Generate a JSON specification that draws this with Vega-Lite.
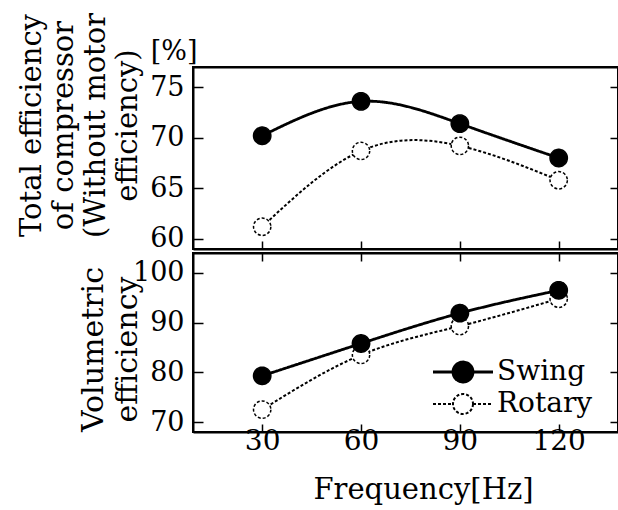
{
  "$schema": "https://vega.github.io/schema/vega-lite/v6.json",
  "background": "white",
  "padding": {"left": 15, "top": 11, "right": 0, "bottom": 0},
  "spacing": -9,
  "config": {
    "font": "DejaVu Serif",
    "view": {"stroke": "black", "strokeWidth": 2},
    "axis": {
      "domainColor": "black", "domainWidth": 2, "tickColor": "black", "tickWidth": 1.5, "minExtent": 0,
      "labelColor": "black", "titleColor": "black", "labelFont": "DejaVu Serif", "titleFont": "DejaVu Serif",
      "labelFontSize": 27, "titleFontSize": 27, "titleFontWeight": "normal", "grid": false
    }
  },
  "data": {"values": [
    {"panel": "total", "series": "Rotary", "freq": 30, "value": 61.2},
    {"panel": "total", "series": "Rotary", "freq": 60, "value": 68.7},
    {"panel": "total", "series": "Rotary", "freq": 90, "value": 69.2},
    {"panel": "total", "series": "Rotary", "freq": 120, "value": 65.8},
    {"panel": "total", "series": "Swing", "freq": 30, "value": 70.2},
    {"panel": "total", "series": "Swing", "freq": 60, "value": 73.6},
    {"panel": "total", "series": "Swing", "freq": 90, "value": 71.4},
    {"panel": "total", "series": "Swing", "freq": 120, "value": 68.0},
    {"panel": "vol", "series": "Rotary", "freq": 30, "value": 72.5},
    {"panel": "vol", "series": "Rotary", "freq": 60, "value": 83.5},
    {"panel": "vol", "series": "Rotary", "freq": 90, "value": 89.3},
    {"panel": "vol", "series": "Rotary", "freq": 120, "value": 94.8},
    {"panel": "vol", "series": "Swing", "freq": 30, "value": 79.3},
    {"panel": "vol", "series": "Swing", "freq": 60, "value": 85.8},
    {"panel": "vol", "series": "Swing", "freq": 90, "value": 91.9},
    {"panel": "vol", "series": "Swing", "freq": 120, "value": 96.5}
  ]},
  "resolve": {
    "scale": {"y": "independent", "fill": "independent", "strokeDash": "independent", "strokeWidth": "independent"},
    "legend": {"fill": "independent", "strokeDash": "independent", "strokeWidth": "independent"}
  },
  "vconcat": [
    {
      "width": 425, "height": 182,
      "transform": [{"filter": "datum.panel === 'total'"}],
      "resolve": {"axis": {"x": "independent", "y": "independent"}},
      "layer": [
        {
          "mark": {"type": "line", "interpolate": "natural", "color": "black"},
          "encoding": {
            "x": {"field": "freq", "type": "quantitative", "scale": {"domain": [9, 138], "nice": false, "zero": false},
                  "axis": {"orient": "bottom", "values": [30, 60, 90, 120], "labels": false, "title": null, "tickSize": -8}},
            "y": {"field": "value", "type": "quantitative", "scale": {"domain": [59, 77], "nice": false, "zero": false},
                  "axis": {"orient": "left", "values": [60, 65, 70, 75], "tickSize": -10, "labelPadding": 19,
                           "title": ["Total efficiency", "of compressor", "(Without motor", "efficiency)"],
                           "titleFontSize": 29, "titleX": -147, "titleY": 58, "titleAngle": 270, "titleBaseline": "bottom", "titleAlign": "center", "titleLineHeight": 32}},
            "detail": {"field": "series"},
            "strokeDash": {"field": "series", "type": "nominal", "scale": {"domain": ["Swing", "Rotary"], "range": [[1, 0], [3, 2]]}, "legend": null},
            "strokeWidth": {"field": "series", "type": "nominal", "scale": {"domain": ["Swing", "Rotary"], "range": [2.8, 2]}, "legend": null}
          }
        },
        {
          "mark": {"type": "point", "shape": "circle", "stroke": "black", "strokeWidth": 1.5, "opacity": 1, "size": 300},
          "encoding": {
            "x": {"field": "freq", "type": "quantitative",
                  "axis": {"orient": "top", "values": [30, 60, 90, 120], "labels": false, "ticks": false,
                           "title": "[%]", "titleX": 4, "titleY": -2, "titleAlign": "right", "titleBaseline": "bottom", "titleAngle": 0}},
            "y": {"field": "value", "type": "quantitative",
                  "axis": {"orient": "right", "values": [60, 65, 70, 75], "labels": false, "title": null, "tickSize": -8}},
            "fill": {"field": "series", "type": "nominal", "scale": {"domain": ["Swing", "Rotary"], "range": ["black", "white"]}, "legend": null},
            "strokeDash": {"field": "series", "type": "nominal", "scale": {"domain": ["Swing", "Rotary"], "range": [[1, 0], [3, 2]]}, "legend": null}
          }
        }
      ]
    },
    {
      "width": 425, "height": 179,
      "transform": [{"filter": "datum.panel === 'vol'"}],
      "resolve": {"axis": {"x": "independent", "y": "independent"}},
      "layer": [
        {
          "mark": {"type": "line", "interpolate": "natural", "color": "black"},
          "encoding": {
            "x": {"field": "freq", "type": "quantitative", "scale": {"domain": [9, 138], "nice": false, "zero": false},
                  "axis": {"orient": "bottom", "values": [30, 60, 90, 120], "tickSize": -8, "labelPadding": 3, "labelFontSize": 28,
                           "title": "Frequency[Hz]", "titleFontSize": 29, "titleX": 230, "titlePadding": 20}},
            "y": {"field": "value", "type": "quantitative", "scale": {"domain": [68, 104], "nice": false, "zero": false},
                  "axis": {"orient": "left", "values": [70, 80, 90, 100], "tickSize": -10, "labelPadding": 19,
                           "title": ["Volumetric", "efficiency"],
                           "titleFontSize": 30, "titleX": -85, "titleY": 96, "titleAngle": 270, "titleBaseline": "bottom", "titleAlign": "center", "titleLineHeight": 34}},
            "detail": {"field": "series"},
            "strokeDash": {"field": "series", "type": "nominal", "scale": {"domain": ["Swing", "Rotary"], "range": [[1, 0], [3, 2]]}},
            "strokeWidth": {"field": "series", "type": "nominal", "scale": {"domain": ["Swing", "Rotary"], "range": [2.8, 2]}}
          }
        },
        {
          "mark": {"type": "point", "shape": "circle", "stroke": "black", "strokeWidth": 1.5, "opacity": 1, "size": 300},
          "encoding": {
            "x": {"field": "freq", "type": "quantitative",
                  "axis": {"orient": "top", "values": [30, 60, 90, 120], "labels": false, "title": null, "tickSize": -8}},
            "y": {"field": "value", "type": "quantitative",
                  "axis": {"orient": "right", "values": [70, 80, 90, 100], "labels": false, "title": null, "tickSize": -8}},
            "fill": {"field": "series", "type": "nominal", "scale": {"domain": ["Swing", "Rotary"], "range": ["black", "white"]},
                     "legend": {"title": null, "orient": "none", "legendX": 256, "legendY": 105, "padding": 0,
                                "symbolType": "M-3,0H-1M1,0H3M1,0A1,1 0 1,1 -1,0A1,1 0 1,1 1,0",
                                "symbolSize": 400, "symbolStrokeColor": "black", "symbolStrokeWidth": 2,
                                "labelFont": "DejaVu Serif", "labelFontSize": 28, "labelColor": "black", "labelOffset": 20, "rowPadding": 2}},
            "strokeDash": {"field": "series", "type": "nominal", "scale": {"domain": ["Swing", "Rotary"], "range": [[1, 0], [3, 2]]}}
          }
        }
      ]
    }
  ]
}
